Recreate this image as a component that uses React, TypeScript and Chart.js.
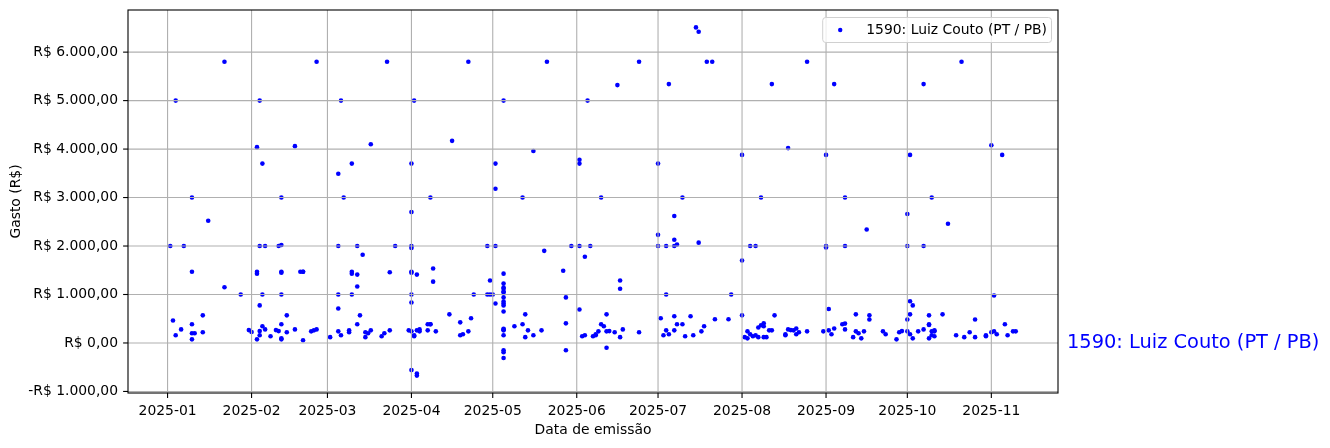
import React, { useEffect, useRef } from "react";
import { Chart, registerables } from "chart.js";

Chart.register(...registerables);

const YEAR = 2025;
const SERIES_LABEL = "1590: Luiz Couto (PT / PB)";
const X_TITLE = "Data de emissão";
const Y_TITLE = "Gasto (R$)";
const MONTH_TICKS = ["2025-01", "2025-02", "2025-03", "2025-04", "2025-05", "2025-06", "2025-07", "2025-08", "2025-09", "2025-10", "2025-11"];
const Y_TICKS = [-1000, 0, 1000, 2000, 3000, 4000, 5000, 6000];

// [month-day, value in R$]
const jan: [string, number][] = [
  ["01-02", 2000], ["01-03", 465], ["01-04", 5000], ["01-04", 160], ["01-06", 280], ["01-07", 2000],
  ["01-10", 1470], ["01-10", 3000], ["01-10", 385], ["01-10", 200], ["01-10", 75], ["01-11", 200],
  ["01-14", 570], ["01-14", 220], ["01-16", 2520], ["01-22", 5800], ["01-22", 1150], ["01-28", 1000],
  ["01-31", 265],
];
const feb: [string, number][] = [
  ["02-01", 225], ["02-03", 4040], ["02-03", 1470], ["02-03", 1430], ["02-03", 75], ["02-04", 5000],
  ["02-04", 2000], ["02-04", 775], ["02-04", 160], ["02-04", 245], ["02-05", 3700], ["02-05", 1000],
  ["02-05", 345], ["02-06", 2000], ["02-06", 280], ["02-08", 140], ["02-10", 265], ["02-11", 2000],
  ["02-11", 245], ["02-12", 2020], ["02-12", 3000], ["02-12", 1470], ["02-12", 1450], ["02-12", 1000],
  ["02-12", 385], ["02-12", 95], ["02-12", 75], ["02-14", 570], ["02-14", 220], ["02-17", 4060],
  ["02-17", 280], ["02-19", 1470], ["02-20", 1470], ["02-20", 1470], ["02-20", 55], ["02-23", 240],
  ["02-24", 260], ["02-25", 5800], ["02-25", 280],
];
const mar: [string, number][] = [
  ["03-02", 120], ["03-05", 3490], ["03-05", 2000], ["03-05", 1000], ["03-05", 710], ["03-05", 240],
  ["03-06", 5000], ["03-06", 160], ["03-07", 3000], ["03-09", 220], ["03-09", 260], ["03-10", 3700],
  ["03-10", 1470], ["03-10", 1430], ["03-10", 1000], ["03-12", 2000], ["03-12", 1410], ["03-12", 1165],
  ["03-12", 385], ["03-13", 570], ["03-14", 1820], ["03-15", 220], ["03-15", 120], ["03-16", 200],
  ["03-17", 4100], ["03-17", 260], ["03-21", 140], ["03-22", 200], ["03-23", 5800], ["03-24", 1460],
  ["03-24", 260], ["03-26", 2000], ["03-31", 260],
];
const apr: [string, number][] = [
  ["04-01", 3700], ["04-01", 2700], ["04-01", 2000], ["04-01", 1960], ["04-01", 1470], ["04-01", 1450],
  ["04-01", 1000], ["04-01", 835], ["04-01", -560], ["04-01", 240], ["04-02", 5000], ["04-02", 140],
  ["04-02", 160], ["04-03", 1410], ["04-03", -630], ["04-03", -673], ["04-03", 260], ["04-04", 280],
  ["04-04", 240], ["04-07", 260], ["04-07", 385], ["04-08", 3000], ["04-08", 385], ["04-08", 385],
  ["04-09", 1535], ["04-09", 1265], ["04-10", 240], ["04-15", 590], ["04-16", 4170], ["04-19", 425],
  ["04-19", 160], ["04-20", 180], ["04-22", 5800], ["04-22", 240], ["04-23", 510], ["04-24", 1000],
  ["04-29", 2000], ["04-29", 1000], ["04-30", 1290], ["04-30", 1000],
];
const may: [string, number][] = [
  ["05-01", 1000], ["05-02", 3700], ["05-02", 3180], ["05-02", 2000], ["05-02", 815], ["05-05", 5000],
  ["05-05", 1430], ["05-05", 1225], ["05-05", 1145], ["05-05", 1120], ["05-05", 1060], ["05-05", 1040],
  ["05-05", 940], ["05-05", 855], ["05-05", 815], ["05-05", 775], ["05-05", 650], ["05-05", 280],
  ["05-05", 260], ["05-05", 290], ["05-05", 160], ["05-05", -150], ["05-05", -190], ["05-05", -310],
  ["05-09", 345], ["05-12", 3000], ["05-12", 385], ["05-13", 590], ["05-13", 120], ["05-14", 260],
  ["05-16", 3960], ["05-16", 160], ["05-19", 260], ["05-20", 1900], ["05-21", 5800], ["05-27", 1490],
  ["05-28", 940], ["05-28", 405], ["05-28", -150], ["05-30", 2000],
];
const jun: [string, number][] = [
  ["06-02", 3780], ["06-02", 3700], ["06-02", 2000], ["06-02", 690], ["06-03", 140], ["06-04", 1780],
  ["06-04", 160], ["06-05", 5000], ["06-06", 2000], ["06-07", 140], ["06-08", 160], ["06-08", 180],
  ["06-09", 240], ["06-10", 3000], ["06-10", 385], ["06-11", 345], ["06-12", 590], ["06-12", -100],
  ["06-12", 240], ["06-13", 245], ["06-15", 220], ["06-16", 5320], ["06-17", 1290], ["06-17", 1120],
  ["06-17", 120], ["06-18", 280], ["06-24", 5800], ["06-24", 220],
];
const jul: [string, number][] = [
  ["07-01", 3700], ["07-01", 2230], ["07-01", 2000], ["07-02", 510], ["07-03", 160], ["07-04", 2000],
  ["07-04", 1000], ["07-04", 260], ["07-05", 5340], ["07-05", 180], ["07-07", 2000], ["07-07", 2130],
  ["07-07", 2620], ["07-07", 550], ["07-07", 260], ["07-08", 2030], ["07-08", 385], ["07-10", 3000],
  ["07-10", 385], ["07-11", 140], ["07-13", 550], ["07-14", 160], ["07-15", 6510], ["07-16", 6420],
  ["07-16", 2070], ["07-17", 240], ["07-18", 345], ["07-19", 5800], ["07-21", 5800], ["07-22", 490],
  ["07-27", 490], ["07-28", 1000],
];
const aug: [string, number][] = [
  ["08-01", 3880], ["08-01", 1700], ["08-01", 570], ["08-02", 120], ["08-03", 95], ["08-03", 240],
  ["08-04", 2000], ["08-04", 180], ["08-05", 140], ["08-06", 2000], ["08-06", 160], ["08-07", 320],
  ["08-07", 120], ["08-08", 3000], ["08-08", 365], ["08-09", 405], ["08-09", 345], ["08-09", 120],
  ["08-10", 120], ["08-11", 260], ["08-12", 5340], ["08-12", 260], ["08-13", 570], ["08-17", 160],
  ["08-17", 180], ["08-18", 4020], ["08-18", 280], ["08-19", 265], ["08-20", 260], ["08-21", 180],
  ["08-21", 300], ["08-22", 220], ["08-25", 5800], ["08-25", 240], ["08-31", 240],
];
const sep: [string, number][] = [
  ["09-01", 3880], ["09-01", 2000], ["09-01", 1970], ["09-02", 700], ["09-02", 260], ["09-03", 180],
  ["09-04", 5340], ["09-04", 300], ["09-08", 3000], ["09-08", 2000], ["09-07", 385], ["09-08", 400],
  ["09-08", 280], ["09-11", 120], ["09-12", 590], ["09-12", 240], ["09-13", 200], ["09-14", 95],
  ["09-15", 240], ["09-16", 2340], ["09-17", 570], ["09-17", 485], ["09-22", 240], ["09-23", 180],
  ["09-27", 75], ["09-28", 220], ["09-29", 245],
];
const oct: [string, number][] = [
  ["10-01", 2660], ["10-01", 2000], ["10-01", 485], ["10-01", 240], ["10-02", 3880], ["10-02", 860],
  ["10-02", 590], ["10-02", 180], ["10-03", 775], ["10-03", 95], ["10-05", 240], ["10-07", 5340],
  ["10-07", 2000], ["10-07", 280], ["10-09", 570], ["10-09", 385], ["10-09", 370], ["10-09", 95],
  ["10-10", 3000], ["10-10", 240], ["10-10", 160], ["10-11", 240], ["10-11", 260], ["10-11", 140],
  ["10-14", 590], ["10-16", 2460], ["10-19", 160], ["10-21", 5800], ["10-22", 120], ["10-24", 220],
  ["10-26", 485], ["10-26", 120], ["10-30", 160], ["10-30", 140],
];
const nov: [string, number][] = [
  ["11-01", 4080], ["11-01", 220], ["11-02", 980], ["11-02", 240], ["11-03", 180], ["11-05", 3880],
  ["11-06", 385], ["11-07", 160], ["11-09", 240], ["11-10", 240],
];

const ALL_MONTHS = [jan, feb, mar, apr, may, jun, jul, aug, sep, oct, nov];

const toMs = (s: string) => {
  const [y, m, d] = s.split("-").map(Number);
  return Date.UTC(y, m - 1, d || 1);
};

const fmtBRL = (v: number) => {
  const abs = Math.abs(v);
  const intPart = Math.round(abs).toString().replace(/\B(?=(\d{3})+(?!\d))/g, ".");
  return (v < 0 ? "-" : "") + "R$ " + intPart + ",00";
};

const fmtMonth = (ms: number) => {
  const d = new Date(ms);
  return d.getUTCFullYear() + "-" + String(d.getUTCMonth() + 1).padStart(2, "0");
};

const FONT = "'DejaVu Sans', sans-serif";

export default function App() {
  const ref = useRef<HTMLCanvasElement | null>(null);

  useEffect(() => {
    document.body.style.margin = "0";
    const canvas = ref.current;
    if (!canvas) return;

    const points = ALL_MONTHS.flat().map(([md, v]) => ({ x: toMs(`${YEAR}-${md}`), y: v }));
    const xs = points.map((p) => p.x);
    const ys = points.map((p) => p.y);
    const xMin0 = Math.min(...xs), xMax0 = Math.max(...xs);
    const yMin0 = Math.min(...ys), yMax0 = Math.max(...ys);
    const xm = (xMax0 - xMin0) * 0.05;
    const ym = (yMax0 - yMin0) * 0.05;

    const decor = {
      id: "mplDecor",
      afterDatasetsDraw(chart: any) {
        const { ctx, chartArea: a, scales } = chart;
        const xs = scales.x, ys = scales.y;
        ctx.save();
        // grid (drawn over the points, as in matplotlib)
        ctx.strokeStyle = "#b0b0b0";
        ctx.lineWidth = 1.1;
        xs.ticks.forEach((t: any) => {
          const px = xs.getPixelForValue(t.value);
          ctx.beginPath(); ctx.moveTo(px, a.top); ctx.lineTo(px, a.bottom); ctx.stroke();
        });
        ys.ticks.forEach((t: any) => {
          const py = ys.getPixelForValue(t.value);
          ctx.beginPath(); ctx.moveTo(a.left, py); ctx.lineTo(a.right, py); ctx.stroke();
        });
        // tick marks
        ctx.strokeStyle = "#000";
        ctx.lineWidth = 1.1;
        xs.ticks.forEach((t: any) => {
          const px = xs.getPixelForValue(t.value);
          ctx.beginPath(); ctx.moveTo(px, a.bottom); ctx.lineTo(px, a.bottom + 4.9); ctx.stroke();
        });
        ys.ticks.forEach((t: any) => {
          const py = ys.getPixelForValue(t.value);
          ctx.beginPath(); ctx.moveTo(a.left - 4.9, py); ctx.lineTo(a.left, py); ctx.stroke();
        });
        // spines
        ctx.strokeStyle = "#000";
        ctx.lineWidth = 1.1;
        ctx.strokeRect(a.left, a.top, a.right - a.left, a.bottom - a.top);

        // legend
        ctx.font = `13.9px ${FONT}`;
        const tw = ctx.measureText(SERIES_LABEL).width;
        const boxR = a.right - 7;
        const boxT = a.top + 7;
        const boxW = tw + 48;
        const boxH = 25;
        const boxL = boxR - boxW;
        ctx.beginPath();
        (ctx as any).roundRect(boxL + 0.5, boxT + 0.5, boxW, boxH, 3);
        ctx.fillStyle = "rgba(255,255,255,0.8)";
        ctx.fill();
        ctx.strokeStyle = "#d0d0d0";
        ctx.lineWidth = 1;
        ctx.stroke();
        ctx.fillStyle = "#0000ff";
        ctx.beginPath();
        ctx.arc(boxL + 18, boxT + boxH / 2 + 0.5, 2.2, 0, Math.PI * 2);
        ctx.fill();
        ctx.fillStyle = "#000";
        ctx.textBaseline = "middle";
        ctx.textAlign = "left";
        ctx.fillText(SERIES_LABEL, boxL + 44, boxT + boxH / 2 + 0.5);

        // side label
        ctx.font = `19.4px ${FONT}`;
        ctx.fillStyle = "#0000ff";
        ctx.textBaseline = "middle";
        ctx.fillText(SERIES_LABEL, a.right + 9, ys.getPixelForValue(0));
        ctx.restore();
      },
    };

    const chart = new Chart(canvas, {
      type: "scatter",
      data: {
        datasets: [
          {
            label: SERIES_LABEL,
            data: points,
            backgroundColor: "#0000ff",
            borderColor: "#0000ff",
            borderWidth: 0,
            pointRadius: 2.3,
            pointHoverRadius: 2.3,
          },
        ],
      },
      options: {
        responsive: false,
        animation: false,
        events: [],
        layout: { padding: { top: 10, right: 272, left: 0, bottom: 0 } },
        plugins: {
          legend: { display: false },
          tooltip: { enabled: false },
        },
        scales: {
          x: {
            type: "linear",
            min: xMin0 - xm,
            max: xMax0 + xm,
            grid: { display: false, drawTicks: false, tickLength: 0 },
            border: { display: false },
            afterBuildTicks: (s: any) => {
              s.ticks = MONTH_TICKS.map((m) => ({ value: toMs(m) }));
            },
            afterFit: (s: any) => {
              s.height = 55;
            },
            ticks: {
              color: "#000",
              font: { family: FONT, size: 13.9 },
              padding: 10,
              maxRotation: 0,
              autoSkip: false,
              callback: (v: any) => fmtMonth(Number(v)),
            },
            title: {
              display: true,
              text: X_TITLE,
              color: "#000",
              font: { family: FONT, size: 13.9 },
              padding: { top: 0, bottom: 9 },
            },
          },
          y: {
            type: "linear",
            min: yMin0 - ym,
            max: yMax0 + ym,
            grid: { display: false, drawTicks: false, tickLength: 0 },
            border: { display: false },
            afterBuildTicks: (s: any) => {
              s.ticks = Y_TICKS.map((v) => ({ value: v }));
            },
            afterFit: (s: any) => {
              s.width = 128;
              s.paddingTop = 0;
              s.paddingBottom = 0;
            },
            ticks: {
              color: "#000",
              font: { family: FONT, size: 13.9 },
              padding: 10,
              autoSkip: false,
              callback: (v: any) => fmtBRL(Number(v)),
            },
            title: {
              display: true,
              text: Y_TITLE,
              color: "#000",
              font: { family: FONT, size: 13.9 },
              padding: { top: 8, bottom: 0 },
            },
          },
        },
      },
      plugins: [decor],
    });

    return () => chart.destroy();
  }, []);

  return (
    <div style={{ width: 1330, height: 448, background: "#fff" }}>
      <canvas ref={ref} width={1330} height={448} style={{ display: "block" }} />
    </div>
  );
}
